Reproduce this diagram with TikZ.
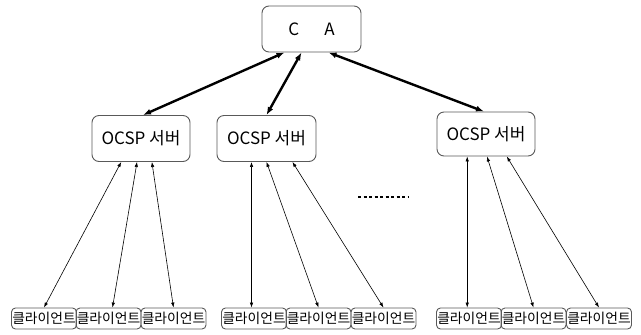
\documentclass[tikz,border=0pt]{standalone}
\usepackage{fontspec}
\newfontfamily\kr{Noto Sans CJK KR}
\usetikzlibrary{arrows.meta,calc}
\begin{document}
\begin{tikzpicture}[x=1bp,y=-1bp,
  font=\kr,
  bigbox/.style={draw=black!65,line width=0.9bp,rounded corners=7bp,
    minimum width=98bp,minimum height=46bp,inner sep=0pt,
    font=\kr\fontsize{17bp}{20bp}\selectfont},
  clientbox/.style={draw=black!65,line width=0.9bp,rounded corners=4bp,
    minimum width=65bp,minimum height=21bp,inner sep=0pt,
    font=\kr\fontsize{13.8bp}{15bp}\selectfont},
  trunk/.style={line width=2.4bp,{Latex[length=8bp,width=6bp]}-{Latex[length=8bp,width=6bp]}},
  branch/.style={line width=0.6bp,{Latex[length=5bp,width=3.5bp]}-{Latex[length=5bp,width=3.5bp]}}
]
\useasboundingbox (0,0) rectangle (641,334);

% certificate authority
\node[bigbox,minimum width=99bp] (ca) at (311.5,29) {C\hspace{25bp}A};

% OCSP servers
\node[bigbox] (o1) at (141,138.5) {OCSP 서버};
\node[bigbox,minimum width=99bp] (o2) at (266.5,138.5) {OCSP 서버};
\node[bigbox,minimum height=44bp] (o3) at (486,134) {OCSP 서버};

% clients
\foreach \n/\x in {c1/44,c2/108.5,c3/173.5,c4/254,c5/318.5,c6/383.5,c7/469,c8/533.5,c9/599}
  \node[clientbox] (\n) at (\x,318.5) {클라이언트};

% CA <-> OCSP servers
\draw[trunk] ($(ca.south west)!0.23!(ca.south east)$) -- ($(o1.north west)!0.52!(o1.north east)$);
\draw[trunk] ($(ca.south west)!0.40!(ca.south east)$) -- (o2.north);
\draw[trunk] ($(ca.south west)!0.67!(ca.south east)$) -- ($(o3.north west)!0.48!(o3.north east)$);

% feet of the vertical links
\coordinate (f4) at ($(o2.south west)!0.35!(o2.south east)$);
\coordinate (f7) at ($(o3.south west)!0.31!(o3.south east)$);

% OCSP servers <-> clients
\draw[branch] ($(o1.south west)!0.30!(o1.south east)$) -- (c1.north);
\draw[branch] ($(o1.south west)!0.46!(o1.south east)$) -- ($(c2.north)+(4,0)$);
\draw[branch] ($(o1.south west)!0.61!(o1.south east)$) -- (c3.north);
\draw[branch] (f4) -- (f4 |- c4.north);
\draw[branch] ($(o2.south west)!0.50!(o2.south east)$) -- (c5.north);
\draw[branch] ($(o2.south west)!0.76!(o2.south east)$) -- (c6.north);
\draw[branch] (f7) -- (f7 |- c7.north);
\draw[branch] ($(o3.south west)!0.51!(o3.south east)$) -- (c8.north);
\draw[branch] ($(o3.south west)!0.71!(o3.south east)$) -- (c9.north);

% ellipsis between server groups
\draw[line width=1.8bp,dash pattern=on 3bp off 2.5bp] (358,197) -- (408,197);
\end{tikzpicture}
\end{document}
